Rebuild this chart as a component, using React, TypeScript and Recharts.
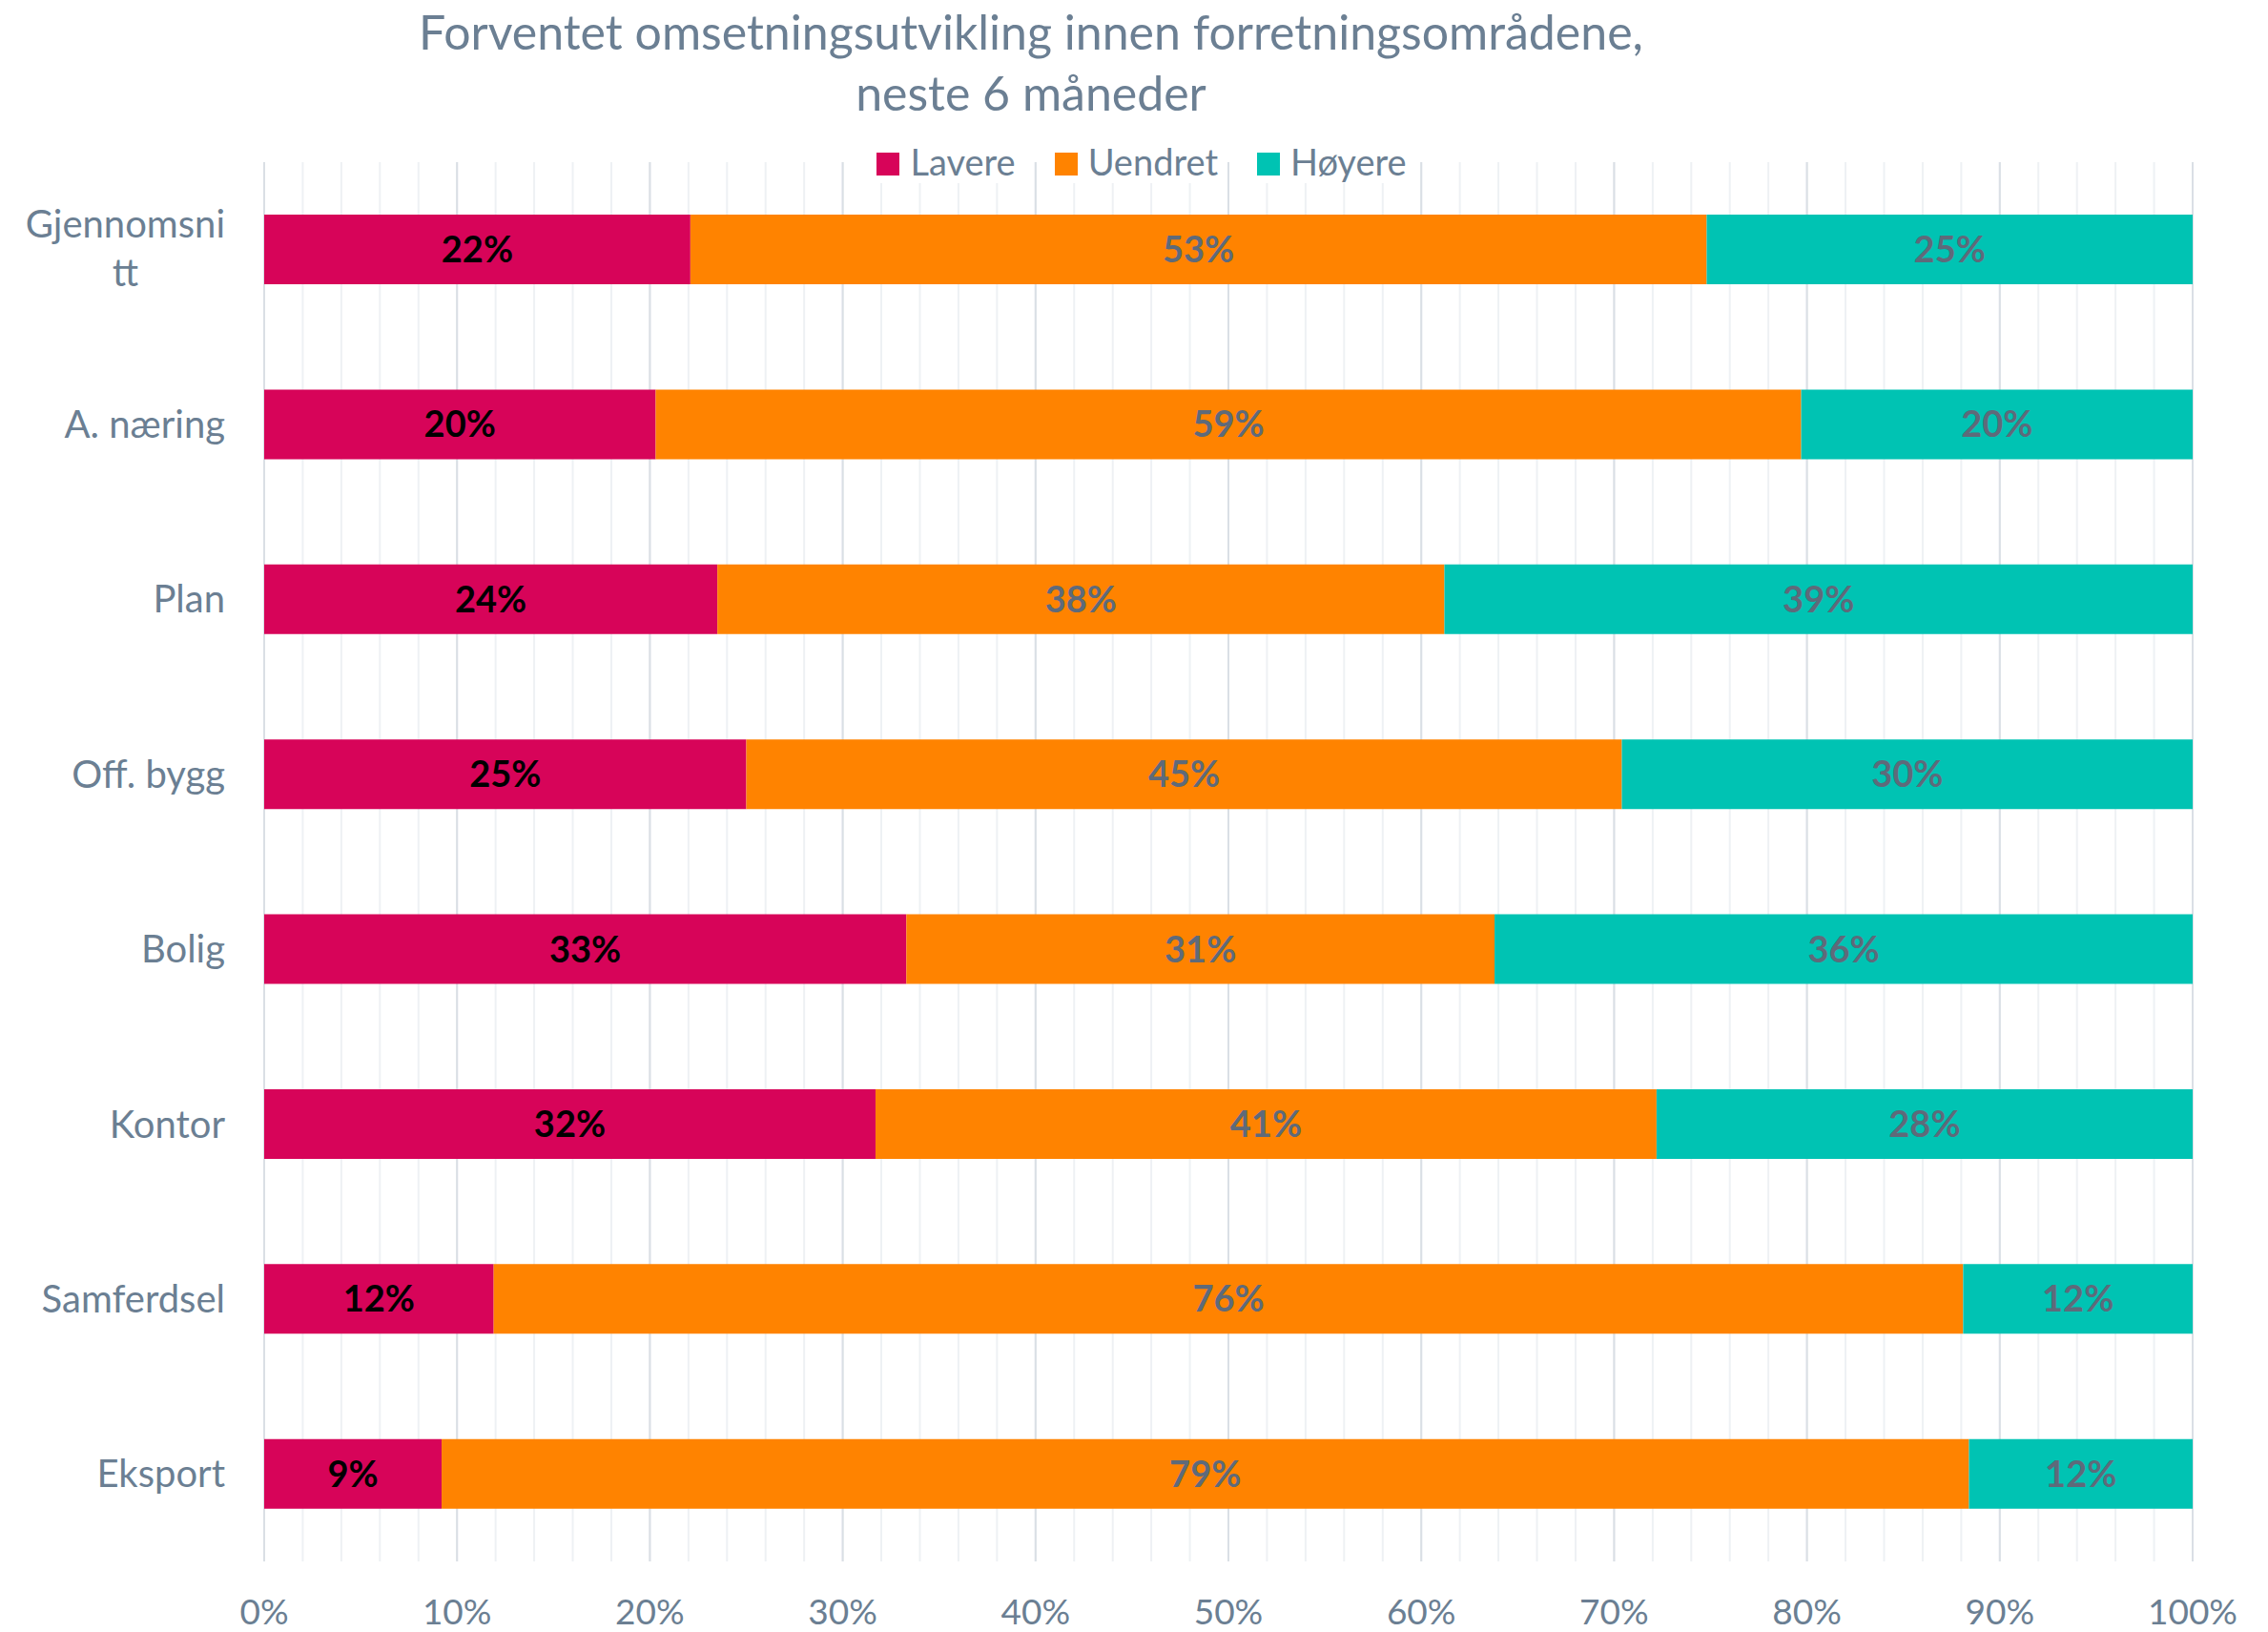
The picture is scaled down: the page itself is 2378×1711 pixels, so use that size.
import React from 'react';
import { BarChart, Bar, XAxis, YAxis, CartesianGrid, LabelList } from 'recharts';

const categories = ['Gjennomsnitt', 'A. næring', 'Plan', 'Off. bygg', 'Bolig', 'Kontor', 'Samferdsel', 'Eksport'];
const lavere = [22.1, 20.3, 23.5, 25.0, 33.3, 31.7, 11.9, 9.2];
const uendret = [52.7, 59.4, 37.7, 45.4, 30.5, 40.5, 76.2, 79.2];
const hoyere = [25.2, 20.3, 38.8, 29.6, 36.2, 27.8, 11.9, 11.6];
const seriesNames = ['Lavere', 'Uendret', 'Høyere'];
const seriesColors = ['#D70459', '#FF8300', '#00C3B3'];
const labelColors = ['#000000', '#5E6A7A', '#5E6A7A'];
const majorTicks = [0, 10, 20, 30, 40, 50, 60, 70, 80, 90, 100];
const minorTicks = [0, 2, 4, 6, 8, 10, 12, 14, 16, 18, 20, 22, 24, 26, 28, 30, 32, 34, 36, 38, 40, 42, 44, 46, 48, 50, 52, 54, 56, 58, 60, 62, 64, 66, 68, 70, 72, 74, 76, 78, 80, 82, 84, 86, 88, 90, 92, 94, 96, 98, 100];
const titleLines = ['Forventet omsetningsutvikling innen forretningsområdene,', 'neste 6 måneder'];

const data = categories.map((name, i) => ({
  name,
  [seriesNames[0]]: lavere[i],
  [seriesNames[1]]: uendret[i],
  [seriesNames[2]]: hoyere[i],
}));

const FONT = "Lato, 'Open Sans', sans-serif";
const TEXT = '#6B7F93';
const AXIS_FS = 40;
const TICK_FS = 37;
const LABEL_FS = 38;
const TITLE_FS = 50;
const LEGEND_FS = 38;

function measure(text: string, size: number, weight = 'normal') {
  try {
    const c = document.createElement('canvas').getContext('2d');
    if (!c) return text.length * size * 0.5;
    c.font = `${weight} ${size}px Lato`;
    return c.measureText(text).width;
  } catch (e) {
    return text.length * size * 0.5;
  }
}

const YTick = (props: any) => {
  const { x, y, payload } = props;
  const t: string = String(payload.value);
  if (t.length <= 10) {
    return (
      <text x={x} y={y} dy={14} textAnchor="end" fill={TEXT} fontSize={AXIS_FS} fontFamily={FONT}>
        {t}
      </text>
    );
  }
  const l1 = t.slice(0, 10);
  const l2 = t.slice(10);
  const w = measure(l1, AXIS_FS);
  return (
    <g>
      <text x={x} y={y} dy={-13} textAnchor="end" fill={TEXT} fontSize={AXIS_FS} fontFamily={FONT}>
        {l1}
      </text>
      <text x={x - w / 2} y={y} dy={38} textAnchor="middle" fill={TEXT} fontSize={AXIS_FS} fontFamily={FONT}>
        {l2}
      </text>
    </g>
  );
};

const XTick = (props: any) => {
  const { x, y, payload } = props;
  return (
    <text x={x} y={y} dy={66} textAnchor="middle" fill={TEXT} fontSize={TICK_FS} fontFamily={FONT}>
      {`${payload.value}%`}
    </text>
  );
};

export default function App() {
  return (
    <div style={{ position: 'absolute', left: 0, top: 0, width: 2378, height: 1711, background: '#fff', fontFamily: FONT }}>
      <div
        style={{
          position: 'absolute',
          left: 0,
          top: 1,
          width: 2162,
          textAlign: 'center',
          color: TEXT,
          fontSize: TITLE_FS,
          lineHeight: '64px',
          whiteSpace: 'nowrap',
        }}
      >
        {titleLines.map((l) => (
          <div key={l}>{l}</div>
        ))}
      </div>
      <div style={{ position: 'absolute', left: 0, top: 0, width: 2378, height: 1711 }}>
        <BarChart
          width={2378}
          height={1711}
          data={data}
          layout="vertical"
          margin={{ top: 170, right: 79, bottom: 0, left: 0 }}
          barCategoryGap="30%"
        >
          <XAxis xAxisId="minor" type="number" domain={[0, 100]} ticks={minorTicks} hide allowDataOverflow />
          <CartesianGrid xAxisId="minor" horizontal={false} stroke="#EEF1F4" strokeWidth={2} />
          <CartesianGrid horizontal={false} stroke="#DADFE5" strokeWidth={2} />
          <XAxis
            type="number"
            domain={[0, 100]}
            ticks={majorTicks}
            allowDataOverflow
            axisLine={false}
            tickLine={false}
            tickSize={0}
            tickMargin={0}
            height={74}
            tick={<XTick />}
            interval={0}
          />
          <YAxis
            type="category"
            dataKey="name"
            width={277}
            axisLine={false}
            tickLine={false}
            tickSize={0}
            tickMargin={41}
            tick={<YTick />}
            interval={0}
          />
          {seriesNames.map((s, i) => (
            <Bar key={s} dataKey={s} stackId="a" fill={seriesColors[i]} isAnimationActive={false}>
              <LabelList
                dataKey={s}
                position="center"
                formatter={(v: any) => `${Math.round(Number(v))}%`}
                fill={labelColors[i]}
                fontSize={LABEL_FS}
                fontWeight="bold"
                fontFamily={FONT}
              />
            </Bar>
          ))}
        </BarChart>
      </div>
      <div
        style={{
          position: 'absolute',
          left: 0,
          top: 146,
          width: 2394,
          display: 'flex',
          justifyContent: 'center',
          alignItems: 'flex-start',
          pointerEvents: 'none',
        }}
      >
        {seriesNames.map((s, i) => (
          <div key={s} style={{ display: 'flex', alignItems: 'flex-start', marginLeft: i === 0 ? 0 : 41, background: '#fff' }}>
            <div style={{ width: 24, height: 24, marginTop: 14, background: seriesColors[i] }} />
            <div style={{ marginLeft: 11, color: TEXT, fontSize: LEGEND_FS, lineHeight: 'normal' }}>{s}</div>
          </div>
        ))}
      </div>
    </div>
  );
}
